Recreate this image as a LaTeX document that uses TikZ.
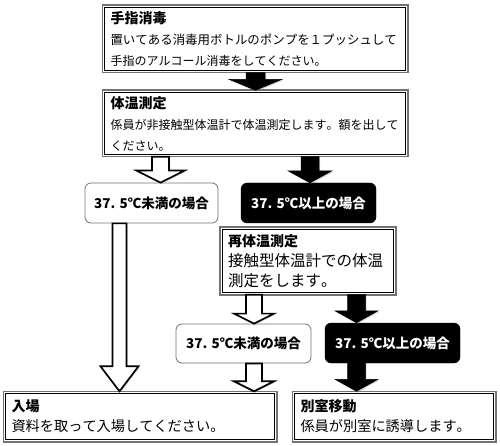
\documentclass[tikz,border=0pt]{standalone}
\usepackage{fontspec}
\setmainfont{Noto Sans CJK JP}
\usetikzlibrary{calc,shadows}
\newcommand\mono[1]{\monoloop#1\relax}
\def\monoloop#1{\ifx\relax#1\else\makebox[1em][c]{#1}\expandafter\monoloop\fi}
\newcommand\barrow[7]{%
 \path[#1] let \p1=(#3.south), \p2=(#4.north) in
 ({(#2-#6)*1pt},\y1) -- ({(#2+#6)*1pt},\y1) -- ({(#2+#6)*1pt},{\y2+#5pt})
 -- ({(#2+#7)*1pt},{\y2+#5pt}) -- ({#2*1pt},\y2) -- ({(#2-#7)*1pt},{\y2+#5pt})
 -- ({(#2-#6)*1pt},{\y2+#5pt}) -- cycle;}
\tikzset{
 dbox/.style={fill=white, align=left, inner xsep=8pt, inner ysep=0pt, anchor=center},
 douter/.style={draw=black!55, line width=1.6pt},
 dinner/.style={draw=black, line width=1pt},
 rbox/.style={draw=black!55, line width=0.8pt, rounded corners=6pt, fill=white,
   font=\fontsize{13.5}{16}\selectfont\bfseries, inner sep=0pt},
 kbox/.style={draw=black, fill=black, rounded corners=6pt, text=white,
   font=\fontsize{13.5}{16}\selectfont\bfseries, inner sep=0pt},
 warrow/.style={draw=black, line width=1.7pt, fill=white, line join=miter,
   drop shadow={shadow xshift=1.2pt, shadow yshift=-1.2pt, opacity=0.3}},
 karrow/.style={draw=black, line width=0.5pt, fill=black,
   drop shadow={shadow xshift=1.2pt, shadow yshift=-1.2pt, opacity=0.3}},
}
\begin{document}
\begin{tikzpicture}[x=1pt,y=-1pt]
\useasboundingbox (0,0) rectangle (500,446);
\node[dbox, minimum width=305pt, minimum height=67pt, text width=289pt,
  font=\fontsize{12}{21}\selectfont] (b1) at (255,39)
  {{\fontsize{14}{21}\selectfont\bfseries 手指消毒}\\{\fontsize{12.45}{21}\selectfont\mono{置いてある消毒用ボトルのポンプを１プッシュして}}\\\mono{手指のアルコール消毒をしてください。}};
\node[dbox, minimum width=305pt, minimum height=66pt, text width=289pt,
  font=\fontsize{12}{21}\selectfont] (b2) at (255,123.5)
  {{\fontsize{14}{21}\selectfont\bfseries 体温測定}\\\mono{係員が非接触型体温計で体温測定します。額を出して}\\\mono{ください。}};
\node[rbox, minimum width=133pt, minimum height=40pt] (w1) at (151.5,203) {37. 5℃未満の場合};
\node[kbox, minimum width=135pt, minimum height=40pt] (k1) at (308.5,203) {37. 5℃以上の場合};
\node[dbox, minimum width=173pt, minimum height=67pt, text width=160pt,
  font=\fontsize{15.5}{20}\selectfont] (b3) at (308,261)
  {{\fontsize{14}{20}\selectfont\bfseries 再体温測定}\\\mono{接触型体温計での体温}\\\mono{測定をします。}};
\node[rbox, minimum width=135pt, minimum height=39pt] (w2) at (243.5,343.5) {37. 5℃未満の場合};
\node[kbox, minimum width=135pt, minimum height=40pt] (k2) at (392.5,343) {37. 5℃以上の場合};
\node[dbox, minimum width=271pt, minimum height=50pt, text width=257pt,
  font=\fontsize{14.2}{20}\selectfont] (b4) at (140,416.5)
  {{\fontsize{14}{20}\selectfont\bfseries 入場}\\\mono{資料を取って入場してください。}};
\node[dbox, minimum width=201pt, minimum height=50pt, text width=187pt,
  font=\fontsize{14.2}{20}\selectfont] (b5) at (394,416.5)
  {{\fontsize{14}{20}\selectfont\bfseries 別室移動}\\\mono{係員が別室に誘導します。}};
\foreach \n in {b1,b2,b3,b4,b5}{
  \draw[douter] (\n.south west) rectangle (\n.north east);
  \draw[dinner] ([shift={(2.6pt,2.6pt)}]\n.south west) rectangle ([shift={(-2.6pt,-2.6pt)}]\n.north east);}
\barrow{karrow}{255.5}{b1}{b2}{11}{9.5}{26.5}
\barrow{warrow}{160.5}{b2}{w1}{12}{8.5}{24}
\barrow{karrow}{310}{b2}{k1}{12}{9}{22}
\barrow{warrow}{119.5}{w1}{b4}{25}{7}{19}
\barrow{warrow}{254}{b3}{w2}{10}{8}{20}
\barrow{karrow}{356.5}{b3}{k2}{12}{9}{21.5}
\barrow{warrow}{254}{w2}{b4}{10}{8}{20}
\barrow{karrow}{356.5}{k2}{b5}{12}{9}{21.5}
\end{tikzpicture}
\end{document}
